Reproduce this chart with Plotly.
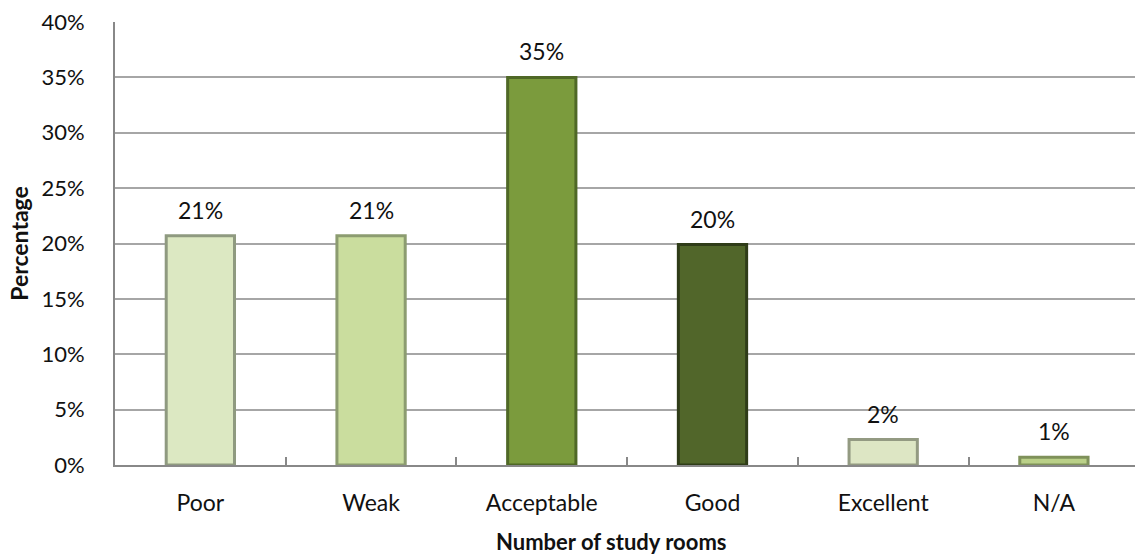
import plotly.graph_objects as go

# Survey results: rating of the number of study rooms
categories = ["Poor", "Weak", "Acceptable", "Good", "Excellent", "N/A"]
shares = [0.207, 0.207, 0.350, 0.199, 0.023, 0.007]
bar_colors = ["#dce8c2", "#cadd9e", "#7b9b3d", "#51662a", "#dde6c4", "#bad088"]
edge_colors = ["#8f9a80", "#8c9c70", "#4f6826", "#2f3c18", "#939a82", "#7f915a"]
y_ticks = [0, 0.05, 0.10, 0.15, 0.20, 0.25, 0.30, 0.35, 0.40]

FONT = "Lato, 'Open Sans', sans-serif"

fig = go.Figure()
fig.add_trace(go.Bar(
    x=categories,
    y=shares,
    width=0.40,
    marker=dict(color=bar_colors, line=dict(color=edge_colors, width=3)),
    showlegend=False,
    hoverinfo="skip",
))

# value labels placed above each bar
for cat, val in zip(categories, shares):
    fig.add_annotation(
        x=cat, y=val, text=f"{val:.0%}", showarrow=False,
        yanchor="middle", yshift=26,
        font=dict(family=FONT, size=23, color="#111"),
    )

# horizontal axis title, centred under the category labels
fig.add_annotation(
    text="<b>Number of study rooms</b>", xref="paper", yref="paper",
    x=0.486, y=0, yshift=-76, yanchor="middle", showarrow=False,
    font=dict(family=FONT, size=22, color="#111"),
)

fig.update_layout(
    width=1135, height=556,
    margin=dict(l=115, r=0, t=22, b=91),
    paper_bgcolor="white", plot_bgcolor="white",
    font=dict(family=FONT, size=23, color="#111"),
    bargap=0.6,
)
fig.update_xaxes(
    range=[-0.5, 5.475],
    tickson="boundaries", ticks="inside", ticklen=8, tickcolor="#888", tickwidth=1.5,
    showline=True, linecolor="#888", linewidth=2,
    showgrid=False,
    tickfont=dict(size=23),
    ticklabelstandoff=16,
)
fig.update_yaxes(
    range=[0, 0.40],
    tickvals=y_ticks, tickformat=".0%",
    showline=True, linecolor="#888", linewidth=2,
    showgrid=True, gridcolor="#a6a6a6", gridwidth=1.5,
    zeroline=False,
    ticks="", ticklabelstandoff=24,
    tickfont=dict(size=22),
    title=dict(text="<b>Percentage</b>", font=dict(size=23), standoff=6),
)

fig.write_html("out.html")
